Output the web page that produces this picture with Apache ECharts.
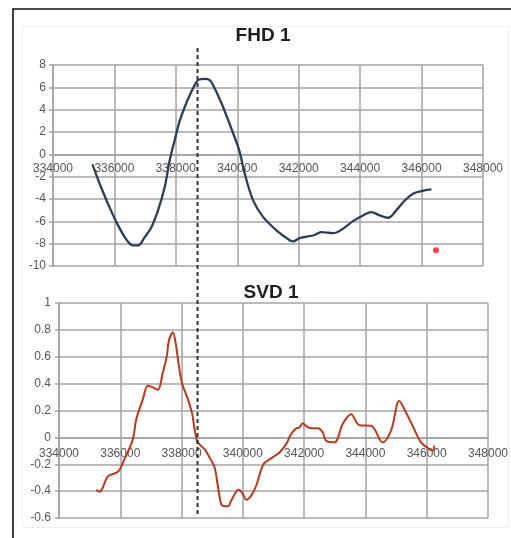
<!DOCTYPE html>
<html>
<head>
<meta charset="utf-8">
<script src="https://cdn.jsdelivr.net/npm/echarts@6/dist/echarts.min.js"></script>
<style>
  html, body { margin: 0; padding: 0; background: #ffffff; }
  #chart { width: 511px; height: 538px; }
</style>
</head>
<body>
<div id="chart"></div>
<script>
// FHD 1 profile
const fhdX = [335283, 335520, 335790, 336064, 336334, 336497, 336605, 336768, 336986, 337204,
  337419, 337637, 337800, 337962, 338125, 338343, 338558, 338754, 338940, 339102,
  339210, 339483, 339698, 339971, 340080, 340242, 340512, 340838, 341274, 341707,
  341814, 342032, 342466, 342739, 343117, 343390, 343768, 344094, 344368, 344638,
  344908, 345182, 345452, 345722, 345996, 346321];
const fhdY = [-0.9, -2.63, -4.42, -6.07, -7.42, -8.0, -8.16, -8.16, -7.42, -6.52,
  -5.02, -2.93, -0.54, 1.26, 3.0, 4.6, 5.9, 6.7, 6.75, 6.65,
  6.2, 4.6, 3.1, 1.1, 0.2, -1.73, -4.1, -5.6, -6.8, -7.7,
  -7.8, -7.5, -7.27, -6.97, -7.06, -6.76, -5.98, -5.47, -5.17, -5.47,
  -5.68, -5.0, -4.13, -3.53, -3.29, -3.14];

// single outlier point on the FHD panel
const outlierX = [346470];
const outlierY = [-8.6];

// SVD 1 profile
const svdX = [335219, 335327, 335597, 335923, 336142, 336412, 336523, 336738, 336901, 337064,
  337227, 337390, 337521, 337586, 337716, 337804, 337912, 338023, 338205, 338349,
  338424, 338531, 338750, 338913, 339076, 339183, 339294, 339402, 339542, 339620,
  339868, 339998, 340109, 340272, 340435, 340673, 340924, 341195, 341413, 341576,
  341739, 341847, 341955, 342063, 342226, 342443, 342606, 342717, 342988, 343258,
  343532, 343803, 344184, 344562, 344836, 345107, 345270, 345540, 345814, 346085,
  346192, 346248];
const svdY = [-0.39, -0.405, -0.29, -0.256, -0.16, -0.013, 0.136, 0.285, 0.384, 0.372,
  0.354, 0.484, 0.607, 0.719, 0.78, 0.707, 0.533, 0.397, 0.285, 0.173,
  0.062, -0.037, -0.087, -0.149, -0.223, -0.36, -0.496, -0.513, -0.509, -0.47,
  -0.39, -0.42, -0.464, -0.434, -0.36, -0.2, -0.156, -0.112, -0.05, 0.025,
  0.067, 0.074, 0.106, 0.086, 0.067, 0.067, 0.037, -0.025, -0.037, 0.1,
  0.173, 0.09, 0.086, -0.037, 0.05, 0.27, 0.21, 0.086, -0.037, -0.087,
  -0.1, -0.062];

// shared x range and the dashed reference position
const xMin = 334000, xMax = 348000, xStep = 2000;
const markerX = 338700;

const titles = ['FHD 1', 'SVD 1'];

const zip = (xs, ys) => xs.map((x, i) => [x, ys[i]]);

const gridColor = '#a3a3a3';
const labelStyle = { color: '#555555', fontSize: 12, fontFamily: 'Liberation Sans' };
const plain = v => String(Math.round(v * 1000) / 1000);

function xAxisFor(gridIndex, margin) {
  return {
    type: 'value', gridIndex: gridIndex, min: xMin, max: xMax, interval: xStep,
    position: 'bottom', offset: 0,
    axisLine: { show: true, onZero: false, lineStyle: { color: gridColor, width: 1.5 } },
    axisTick: { show: false },
    axisLabel: Object.assign({ margin: margin, showMinLabel: true, showMaxLabel: true,
      hideOverlap: false, formatter: plain }, labelStyle),
    splitLine: { show: true, lineStyle: { color: gridColor, width: 1.5 } }
  };
}

function yAxisFor(gridIndex, min, max, step, margin) {
  return {
    type: 'value', gridIndex: gridIndex, min: min, max: max, interval: step,
    axisLine: { show: true, onZero: false, lineStyle: { color: gridColor, width: 1.5 } },
    axisTick: { show: true, length: 4, lineStyle: { color: gridColor, width: 1.5 } },
    axisLabel: Object.assign({ margin: margin, formatter: plain }, labelStyle),
    splitLine: { show: true, lineStyle: { color: gridColor, width: 1.5 } }
  };
}

const chart = echarts.init(document.getElementById('chart'), null, { renderer: 'canvas' });

chart.setOption({
  animation: false,
  backgroundColor: '#ffffff',
  title: [
    { text: titles[0], left: 258, top: 21, textAlign: 'center',
      textStyle: { fontSize: 19, fontWeight: 'bold', color: '#1e1e1e', fontFamily: 'Liberation Sans' } },
    { text: titles[1], left: 266, top: 278, textAlign: 'center',
      textStyle: { fontSize: 19, fontWeight: 'bold', color: '#1e1e1e', fontFamily: 'Liberation Sans' } }
  ],
  grid: [
    { left: 53, right: 28, top: 65, height: 201 },
    { left: 59, right: 23, top: 303, height: 215 }
  ],
  xAxis: [xAxisFor(0, 8), xAxisFor(1, 10)],
  yAxis: [yAxisFor(0, -10, 8, 2, 7), yAxisFor(1, -0.6, 1, 0.2, 8)],
  series: [
    { type: 'line', xAxisIndex: 0, yAxisIndex: 0, data: zip(fhdX, fhdY),
      smooth: 0.35, showSymbol: false, lineStyle: { color: '#2b3e54', width: 2.3 }, z: 3 },
    { type: 'scatter', xAxisIndex: 0, yAxisIndex: 0, data: zip(outlierX, outlierY),
      symbolSize: 6, itemStyle: { color: '#e8141b' }, z: 3 },
    { type: 'line', xAxisIndex: 1, yAxisIndex: 1, data: zip(svdX, svdY),
      smooth: 0.35, showSymbol: false, lineStyle: { color: '#b23b22', width: 2 }, z: 3 }
  ]
});

// move each x axis up so it runs along the zero line of its panel
const lift = (yIdx, yMinVal) =>
  chart.convertToPixel({ yAxisIndex: yIdx }, 0) - chart.convertToPixel({ yAxisIndex: yIdx }, yMinVal);
chart.setOption({
  xAxis: [{ offset: lift(0, -10) }, { offset: lift(1, -0.6) }]
});

// frame, faint inner panel, and the dashed reference line through both panels
const lineX = Math.round(chart.convertToPixel({ xAxisIndex: 0 }, markerX)) + 0.5;
const topY = chart.convertToPixel({ yAxisIndex: 0 }, 8) - 17;
const bottomY = chart.convertToPixel({ yAxisIndex: 1 }, -0.6) - 2;

chart.setOption({
  graphic: [
    { type: 'rect', z: -10, silent: true,
      shape: { x: 22.5, y: 26.5, width: 486, height: 501 },
      style: { fill: 'none', stroke: '#f0f0f0', lineWidth: 1 } },
    { type: 'polyline', z: 10, silent: true,
      shape: { points: [[13, 540], [13, 9], [515, 9]] },
      style: { fill: 'none', stroke: '#111111', lineWidth: 1.6 } },
    { type: 'line', z: 10, silent: true,
      shape: { x1: lineX, y1: topY, x2: lineX, y2: bottomY },
      style: { stroke: '#333333', lineWidth: 2, lineDash: [4, 3] } }
  ]
});
</script>
</body>
</html>
